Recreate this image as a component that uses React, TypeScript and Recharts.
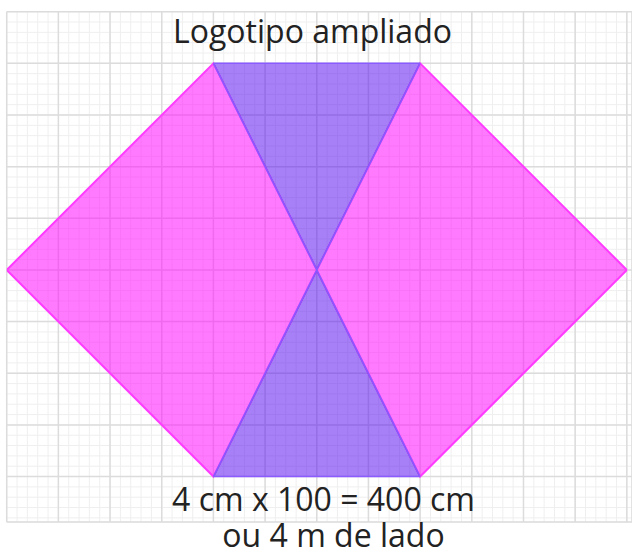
import { Area, CartesianGrid, ComposedChart, XAxis, YAxis } from 'recharts';

// grid units: 1 major square = 1 cm of the logo
const majorTicksX = [0, 1, 2, 3, 4, 5, 6, 7, 8, 9, 10, 11, 12];
const majorTicksY = [0, 1, 2, 3, 4, 5, 6, 7, 8, 9];
const minorStep = 0.2;

// each piece as vertical spans [top, bottom] at given x
const pinkLeftX = [0, 4, 6];
const pinkLeftSpan: [number, number][] = [[5, 5], [1, 9], [5, 5]];
const pinkRightX = [6, 8, 12];
const pinkRightSpan: [number, number][] = [[5, 5], [1, 9], [5, 5]];
const purpleTopX = [4, 6, 8];
const purpleTopSpan: [number, number][] = [[1, 1], [1, 5], [1, 1]];
const purpleBottomX = [4, 6, 8];
const purpleBottomSpan: [number, number][] = [[9, 9], [5, 9], [9, 9]];

const title = 'Logotipo ampliado';
const captionLines = ['4 cm x 100 = 400 cm', 'ou 4 m de lado'];

const minorTicksX = Array.from({ length: 61 }, (_, i) => +(i * minorStep).toFixed(1));
const minorTicksY = Array.from({ length: 50 }, (_, i) => +(i * minorStep).toFixed(1));

const toRows = (xs: number[], spans: [number, number][]) =>
  xs.map((x, i) => ({ x, span: spans[i] }));

const FONT = '"Open Sans", "Noto Sans", sans-serif';

export default function App() {
  return (
    <div style={{ position: 'absolute', left: 0, top: 0, width: 632, height: 554, background: '#fff' }}>
      <ComposedChart
        width={632}
        height={554}
        margin={{ top: 11.7, right: 0, bottom: 32, left: 6.7 }}
      >
        <XAxis xAxisId="minor" type="number" dataKey="x" domain={[0, 12.1]} ticks={minorTicksX} interval={0} allowDataOverflow hide />
        <YAxis yAxisId="minor" type="number" domain={[0, 9.88]} ticks={minorTicksY} interval={0} allowDataOverflow reversed hide />
        <XAxis xAxisId="major" type="number" dataKey="x" domain={[0, 12.1]} ticks={majorTicksX} interval={0} allowDataOverflow hide />
        <YAxis yAxisId="major" type="number" domain={[0, 9.88]} ticks={majorTicksY} interval={0} allowDataOverflow reversed hide />
        <CartesianGrid xAxisId="minor" yAxisId="minor" stroke="#efefef" strokeWidth={1} />
        <CartesianGrid xAxisId="major" yAxisId="major" stroke="#dcdcdc" strokeWidth={1.5} />
        <Area
          xAxisId="major"
          yAxisId="major"
          data={toRows(pinkLeftX, pinkLeftSpan)}
          dataKey="span"
          type="linear"
          fill="#ff00ff"
          fillOpacity={0.52}
          stroke="#ff3cff"
          strokeWidth={2}
          isAnimationActive={false}
        />
        <Area
          xAxisId="major"
          yAxisId="major"
          data={toRows(pinkRightX, pinkRightSpan)}
          dataKey="span"
          type="linear"
          fill="#ff00ff"
          fillOpacity={0.52}
          stroke="#ff3cff"
          strokeWidth={2}
          isAnimationActive={false}
        />
        <Area
          xAxisId="major"
          yAxisId="major"
          data={toRows(purpleTopX, purpleTopSpan)}
          dataKey="span"
          type="linear"
          fill="#5000f0"
          fillOpacity={0.5}
          stroke="#8a5cff"
          strokeWidth={1.5}
          isAnimationActive={false}
        />
        <Area
          xAxisId="major"
          yAxisId="major"
          data={toRows(purpleBottomX, purpleBottomSpan)}
          dataKey="span"
          type="linear"
          fill="#5000f0"
          fillOpacity={0.5}
          stroke="#8a5cff"
          strokeWidth={1.5}
          isAnimationActive={false}
        />
      </ComposedChart>
      <svg width={632} height={554} style={{ position: 'absolute', left: 0, top: 0, pointerEvents: 'none' }}>
        <g fontFamily={FONT} fontSize={32} fill="#222" textAnchor="middle">
          <text x={312.5} y={43}>{title}</text>
          <text x={323.5} y={511}>{captionLines[0]}</text>
          <text x={333.5} y={547}>{captionLines[1]}</text>
        </g>
      </svg>
    </div>
  );
}
